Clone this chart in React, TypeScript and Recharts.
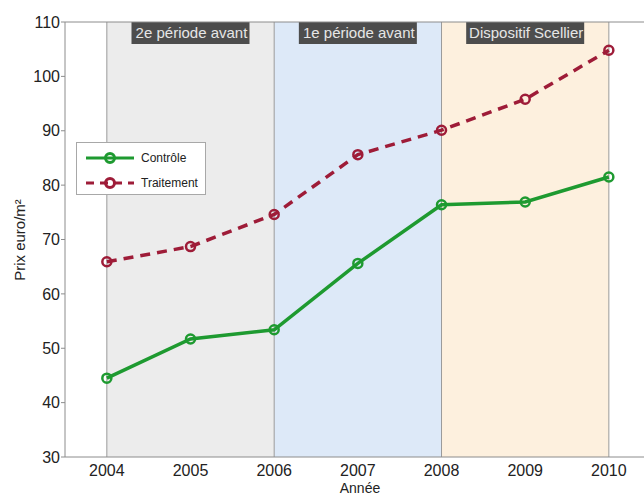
import { LineChart, Line, XAxis, YAxis, ReferenceArea, ReferenceLine } from 'recharts';

const years = [2004, 2005, 2006, 2007, 2008, 2009, 2010];
const controle = [44.5, 51.7, 53.4, 65.6, 76.4, 76.9, 81.5];
const traitement = [65.9, 68.7, 74.6, 85.6, 90.1, 95.8, 104.8];
const yTicks = [30, 40, 50, 60, 70, 80, 90, 100, 110];
const periodLabels = ['2e période avant', '1e période avant', 'Dispositif Scellier'];
const periodBounds = [[2004, 2006], [2006, 2008], [2008, 2010]];
const periodColors = ['#ececec', '#dde9f8', '#fdf0de'];
const dividers = [2004, 2006, 2008, 2010];

const data = years.map((year, i) => ({ year, controle: controle[i], traitement: traitement[i] }));

const GREEN = '#1e9a30';
const RED = '#9e1c38';
const FONT = "'Liberation Sans', Arial, sans-serif";

function PeriodLabel({ viewBox, text }: any) {
  const cx = viewBox.x + viewBox.width / 2;
  const w = 118;
  return (
    <g>
      <rect x={cx - w / 2} y={viewBox.y} width={w} height={22} fill="#4d4d4d" />
      <text x={cx + 1} y={viewBox.y + 16} textAnchor="middle" fill="#e6e6e6" fontSize={15} fontFamily={FONT}>
        {text}
      </text>
    </g>
  );
}

function LegendRow({ color, dash, label }: { color: string; dash?: string; label: string }) {
  return (
    <div style={{ display: 'flex', alignItems: 'center', height: 25 }}>
      <svg width={50} height={14} style={{ marginRight: 6 }}>
        <line x1={1} y1={7} x2={49} y2={7} stroke={color} strokeWidth={3} strokeDasharray={dash} />
        <circle cx={25} cy={7} r={4.5} fill="none" stroke={color} strokeWidth={3} />
      </svg>
      <span>{label}</span>
    </div>
  );
}

export default function App() {
  return (
    <div style={{ position: 'absolute', left: 0, top: 0, width: 644, height: 497, background: '#fff' }}>
      <LineChart width={644} height={497} data={data} margin={{ top: 22, right: 0, left: 0, bottom: 0 }}>
        {periodLabels.map((p, i) => (
          <ReferenceArea
            key={p}
            x1={periodBounds[i][0]}
            x2={periodBounds[i][1]}
            y1={30}
            y2={110}
            fill={periodColors[i]}
            fillOpacity={1}
            stroke="none"
            label={(props: any) => <PeriodLabel {...props} text={p} />}
          />
        ))}
        {dividers.map((d) => (
          <ReferenceLine key={d} x={d} stroke="#9a9a9a" strokeWidth={1} />
        ))}
        <ReferenceLine y={110} stroke="#8c8c8c" strokeWidth={1} />
        <XAxis
          dataKey="year"
          type="number"
          domain={[2003.5, 2010.42]}
          ticks={years}
          height={40}
          tickLine={false}
          tickSize={0}
          tickMargin={8}
          axisLine={{ stroke: '#8c8c8c' }}
          tick={{ fill: '#222', fontSize: 16, fontFamily: FONT }}
          label={{
            content: () => (
              <text x={360} y={493} textAnchor="middle" fill="#222" fontSize={14} fontFamily={FONT}>
                Année
              </text>
            ),
          }}
        />
        <YAxis
          type="number"
          domain={[30, 110]}
          ticks={yTicks}
          width={65}
          tickSize={4}
          tickMargin={1}
          interval={0}
          axisLine={{ stroke: '#8c8c8c' }}
          tickLine={{ stroke: '#8c8c8c' }}
          tick={{ fill: '#222', fontSize: 16, fontFamily: FONT }}
          label={{
            content: () => (
              <text
                x={19}
                y={240}
                dominantBaseline="central"
                textAnchor="middle"
                fill="#222"
                fontSize={15}
                fontFamily={FONT}
                transform="rotate(-90 19 240)"
              >
                Prix euro/m²
              </text>
            ),
          }}
        />
        <Line
          type="linear"
          dataKey="traitement"
          stroke={RED}
          strokeWidth={3.5}
          strokeDasharray="10 7"
          dot={{ r: 4.5, fill: 'none', stroke: RED, strokeWidth: 2.5, strokeDasharray: '' }}
          activeDot={false}
          isAnimationActive={false}
        />
        <Line
          type="linear"
          dataKey="controle"
          stroke={GREEN}
          strokeWidth={3.5}
          dot={{ r: 4.5, fill: 'none', stroke: GREEN, strokeWidth: 2.5 }}
          activeDot={false}
          isAnimationActive={false}
        />
      </LineChart>
      <div
        style={{
          position: 'absolute',
          left: 76,
          top: 142,
          width: 130,
          height: 53,
          border: '1px solid #a8a8a8',
          background: '#fff',
          fontFamily: FONT,
          fontSize: 12,
          color: '#222',
          padding: '2px 0 0 8px',
          boxSizing: 'border-box',
        }}
      >
        <LegendRow color={GREEN} label="Contrôle" />
        <LegendRow color={RED} dash="8 6" label="Traitement" />
      </div>
    </div>
  );
}
